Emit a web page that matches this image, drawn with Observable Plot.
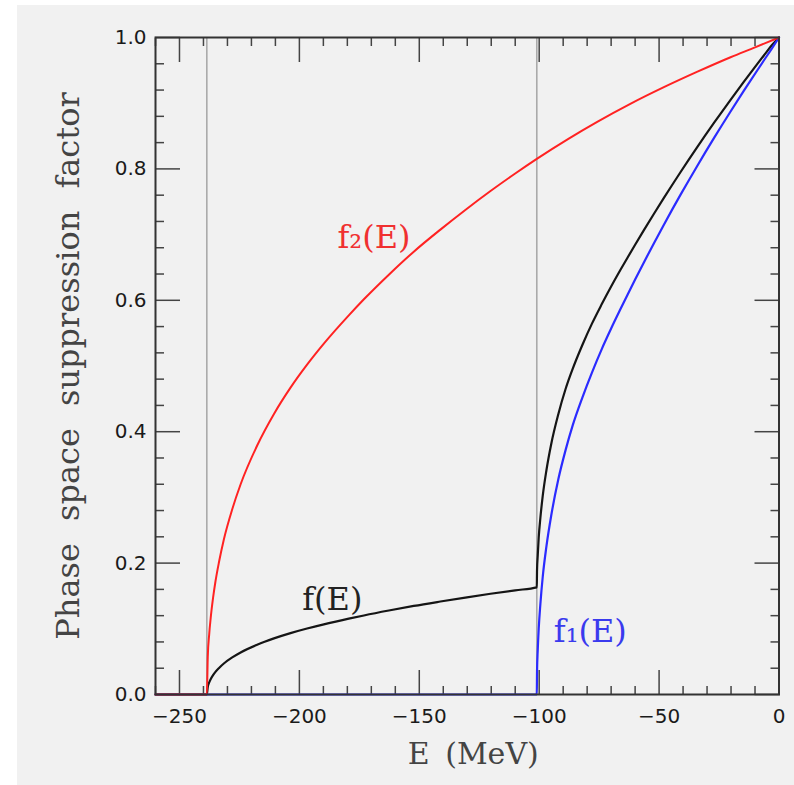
<!DOCTYPE html>
<html><head><meta charset="utf-8">
<script src="https://cdn.jsdelivr.net/npm/d3@7"></script>
<script src="https://cdn.jsdelivr.net/npm/@observablehq/plot@0.6"></script>
<style>
html,body{margin:0;padding:0;background:#fff;}
#wrap{position:relative;width:794px;height:785px;overflow:hidden;}
#bg{position:absolute;left:17px;top:5px;right:0;bottom:0;background:#f1f1f1;}
#chart{position:absolute;left:0;top:0;}
</style></head><body>
<div id="wrap"><div id="bg"></div><div id="chart"></div></div>
<script>
// f2(E) (red)
const f2E = [-260, -238.6, -238.2, -237.6, -237, -236, -235, -233.5, -231.5, -228, -224.5, -217.6, -210.6, -203.7, -196.8, -189.8, -179.4, -173.1, -162.7, -152.3, -141.2, -130.8, -120.3, -110, -101, -88, -75.8, -62, -48, -34, -20.2, -10, 0];
const f2V = [0, 0, 0.058, 0.092, 0.116, 0.147, 0.172, 0.202, 0.236, 0.282, 0.320, 0.379, 0.427, 0.467, 0.502, 0.534, 0.577, 0.6015, 0.639, 0.674, 0.7076, 0.7375, 0.7663, 0.793, 0.8153, 0.8454, 0.8716, 0.899, 0.9244, 0.948, 0.970, 0.985, 1.0];
// f(E) (black)
const fE = [-260, -238.6, -238.2, -237.6, -237, -236, -235, -233.5, -231.5, -228, -224.5, -217.6, -210.6, -203.7, -196.8, -189.8, -179.4, -173.1, -162.7, -152.3, -141.2, -130.8, -120.3, -110, -101, -100.9, -100.6, -100.2, -99.5, -98.5, -97, -95, -92, -89, -86, -82, -78, -74, -70, -66.1, -63, -60, -56.4, -52.2, -48, -41.1, -34.1, -27.2, -20.2, -14.7, -9.1, -6.4, -3, 0];
const fV = [0, 0, 0.0116, 0.0184, 0.0232, 0.0294, 0.0344, 0.0404, 0.0472, 0.0564, 0.064, 0.0758, 0.0854, 0.0934, 0.1004, 0.1068, 0.1154, 0.1203, 0.1278, 0.1348, 0.1415, 0.1475, 0.1533, 0.1586, 0.163, 0.189, 0.212, 0.239, 0.269, 0.303, 0.341, 0.381, 0.427, 0.465, 0.496, 0.532, 0.5645, 0.5935, 0.621, 0.6464, 0.6659, 0.6845, 0.7064, 0.7314, 0.7558, 0.7949, 0.8331, 0.8695, 0.9052, 0.9324, 0.9594, 0.9722, 0.9881, 1.0];
// f1(E) (blue)
const f1E = [-260, -101, -100.9, -100.6, -100.2, -99.5, -98.5, -97, -95, -92, -89, -86, -82, -78, -74, -70, -66.1, -63, -60, -56.4, -52.2, -48, -41.1, -34.1, -27.2, -20.2, -14.7, -9.1, -6.4, -3, 0];
const f1V = [0, 0, 0.035, 0.068, 0.1, 0.138, 0.18, 0.225, 0.272, 0.328, 0.372, 0.41, 0.452, 0.49, 0.525, 0.557, 0.5866, 0.6097, 0.6316, 0.6573, 0.6866, 0.7151, 0.7604, 0.8045, 0.8464, 0.8874, 0.9187, 0.9498, 0.9646, 0.9831, 1.0];
// thresholds (gray vertical lines)
const thresholds = [-238.6, -101];
// ticks
const xMajor = [-250, -200, -150, -100, -50, 0];
const xMinor = [-260, -240, -230, -220, -210, -190, -180, -170, -160, -140, -130, -120, -110, -90, -80, -70, -60, -40, -30, -20, -10];
const yMajor = [0, 0.2, 0.4, 0.6, 0.8, 1.0];
const yMinor = [0.04, 0.08, 0.12, 0.16, 0.24, 0.28, 0.32, 0.36, 0.44, 0.48, 0.52, 0.56, 0.64, 0.68, 0.72, 0.76, 0.84, 0.88, 0.92, 0.96];
// labels
const curveLabels = [
  {text: "f₂(E)", x: -184.1, y: 0.680, color: "#f03030"},
  {text: "f(E)", x: -198.8, y: 0.128, color: "#222"},
  {text: "f₁(E)", x: -93.9, y: 0.080, color: "#3a3aee"}
];
const xTitle = "E (MeV)";
const yTitle = "Phase space suppression factor";

const chart = Plot.plot({
  width: 794, height: 785,
  marginLeft: 155, marginRight: 15.5, marginTop: 37, marginBottom: 91,
  style: {background: "transparent", overflow: "visible"},
  x: {domain: [-260, 0]},
  y: {domain: [0, 1]},
  marks: [
    Plot.ruleX(thresholds, {stroke: "#aaa", strokeWidth: 1.6}),
    // tick labels
    Plot.axisX(xMajor, {anchor: "bottom", tickSize: 0, tickPadding: 14, tickFormat: d3.format("d"), fontFamily: "DejaVu Sans", fontSize: 20, fill: "#1a1a1a", label: null}),
    Plot.axisY(yMajor, {anchor: "left", tickSize: 0, tickPadding: 9, tickFormat: d3.format(".1f"), fontFamily: "DejaVu Sans", fontSize: 20, fill: "#1a1a1a", label: null}),
    // inward ticks
    Plot.axisX(xMajor, {anchor: "bottom", tickSize: -24, fill: "none", stroke: "#444", strokeWidth: 1.5, label: null}),
    Plot.axisX(xMinor, {anchor: "bottom", tickSize: -8, fill: "none", stroke: "#444", strokeWidth: 1.5, label: null}),
    Plot.axisX(xMajor, {anchor: "top", tickSize: -24, fill: "none", stroke: "#444", strokeWidth: 1.5, label: null}),
    Plot.axisX(xMinor, {anchor: "top", tickSize: -8, fill: "none", stroke: "#444", strokeWidth: 1.5, label: null}),
    Plot.axisY(yMajor, {anchor: "left", tickSize: -25, fill: "none", stroke: "#444", strokeWidth: 1.5, label: null}),
    Plot.axisY(yMinor, {anchor: "left", tickSize: -9, fill: "none", stroke: "#444", strokeWidth: 1.5, label: null}),
    Plot.axisY(yMajor, {anchor: "right", tickSize: -25, fill: "none", stroke: "#444", strokeWidth: 1.5, label: null}),
    Plot.axisY(yMinor, {anchor: "right", tickSize: -9, fill: "none", stroke: "#444", strokeWidth: 1.5, label: null}),
    // curves
    Plot.line(fV, {x: fE, y: fV, stroke: "#151515", strokeWidth: 2.2, curve: "monotone-x"}),
    Plot.line(f1V, {x: f1E, y: f1V, stroke: "#2b2bff", strokeWidth: 2.2, curve: "monotone-x"}),
    Plot.line(f2V, {x: f2E, y: f2V, stroke: "#ff2222", strokeWidth: 2, curve: "monotone-x"}),
    Plot.frame({stroke: "#333", strokeWidth: 2}),
    // curve labels
    Plot.text(curveLabels, {x: "x", y: "y", text: "text", fill: "color", textAnchor: "start", lineAnchor: "bottom", fontFamily: "DejaVu Serif", fontSize: 32}),
    // titles
    Plot.text([xTitle], {frameAnchor: "bottom", dy: 69, dx: 6, lineAnchor: "bottom", textAnchor: "middle", fontFamily: "DejaVu Serif", fontSize: 30, fill: "#444"}),
    Plot.text([yTitle], {frameAnchor: "left", dx: -77, rotate: -90, lineAnchor: "bottom", textAnchor: "middle", fontFamily: "DejaVu Serif", fontSize: 32, fill: "#444"})
  ]
});
document.getElementById("chart").appendChild(chart);
d3.select(chart).selectAll("text").filter(function(){ return this.textContent === yTitle; }).style("word-spacing", "12px");
d3.select(chart).selectAll("text").filter(function(){ return this.textContent === xTitle; }).style("word-spacing", "6px");
</script>
</body></html>
